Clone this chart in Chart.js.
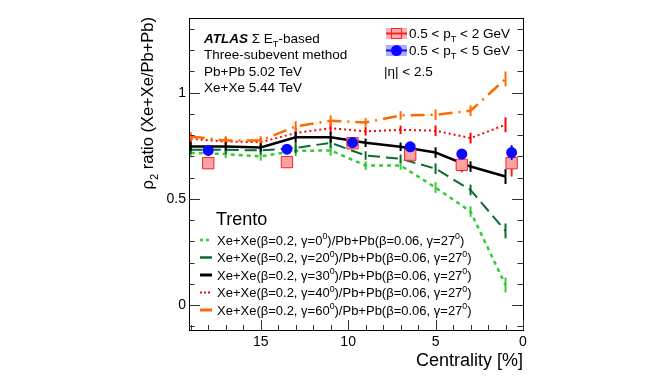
<!DOCTYPE html>
<html>
<head>
<meta charset="utf-8">
<script src="https://cdn.jsdelivr.net/npm/chart.js@4.4.0/dist/chart.umd.min.js"></script>
<style>
  html, body { margin: 0; padding: 0; background: #fff; }
</style>
</head>
<body>
<canvas id="ratioChart" width="664" height="379"></canvas>
<script>
// Trento model curves, centrality bin centres
const centrality = [19, 17, 15, 13, 11, 9, 7, 5, 3, 1];
const gammas = [0, 20, 30, 40, 60];
const trento0  = [0.716, 0.711, 0.700, 0.726, 0.728, 0.657, 0.657, 0.553, 0.440, 0.094];
const trento20 = [0.731, 0.731, 0.728, 0.740, 0.764, 0.704, 0.689, 0.642, 0.542, 0.349];
const trento30 = [0.747, 0.747, 0.742, 0.790, 0.790, 0.764, 0.745, 0.718, 0.652, 0.605];
const trento40 = [0.782, 0.770, 0.767, 0.810, 0.833, 0.818, 0.825, 0.821, 0.786, 0.849];
const trento60 = [0.794, 0.775, 0.775, 0.841, 0.868, 0.860, 0.893, 0.896, 0.915, 1.065];
const trentoErr = [0.02, 0.02, 0.02, 0.025, 0.025, 0.02, 0.02, 0.025, 0.025, 0.035];

// ATLAS measurements
const dataCent = [18, 13.5, 9.75, 6.45, 3.5, 0.65];
const ptLow     = [0.668, 0.673, 0.762, 0.708, 0.660, 0.668];
const ptLowStat = [0.015, 0.015, 0.015, 0.02, 0.035, 0.063];
const ptHigh     = [0.728, 0.734, 0.765, 0.745, 0.711, 0.718];
const ptHighStat = [0.01, 0.01, 0.012, 0.012, 0.015, 0.035];

// axes
const xTicks = [15, 10, 5, 0];
const yTicks = [0, 0.5, 1];

const FONT = '"Liberation Sans", Arial, Helvetica, sans-serif';

function pts(xs, ys) {
    return xs.map((x, i) => ({ x: x, y: ys[i] }));
}

// draw text made of normal / sub / sup / bold-italic pieces
function rich(ctx, parts, x, y, size, align) {
    let total = 0;
    const widths = parts.map(p => {
        ctx.font = fontFor(p[1], size);
        const w = ctx.measureText(p[0]).width;
        total += w;
        return w;
    });
    let cx = align === 'right' ? x - total : x;
    parts.forEach((p, i) => {
        ctx.font = fontFor(p[1], size);
        let dy = 0;
        if (p[1] === 'sub') dy = size * 0.3;
        if (p[1] === 'sup') dy = -size * 0.42;
        ctx.fillText(p[0], cx, y + dy);
        cx += widths[i];
    });
}
function fontFor(kind, size) {
    if (kind === 'sub' || kind === 'sup') return (size * 0.68).toFixed(1) + 'px ' + FONT;
    if (kind === 'bi') return 'italic bold ' + size + 'px ' + FONT;
    return size + 'px ' + FONT;
}

const models = [
    { data: trento0,  color: '#33cc33', width: 2.5, dash: [4, 4] },
    { data: trento20, color: '#0b6b2e', width: 2,   dash: [12, 6] },
    { data: trento30, color: '#000000', width: 2.5, dash: [] },
    { data: trento40, color: '#ff0000', width: 2,   dash: [2, 3] },
    { data: trento60, color: '#ff6a00', width: 2.5, dash: [14, 6, 2, 6] }
];

const datasets = [
    {
        data: pts(dataCent, ptHigh),
        showLine: false,
        pointStyle: 'circle',
        pointRadius: 5.5,
        backgroundColor: '#0a0aff',
        borderColor: '#0a0aff',
        borderWidth: 0,
        errs: ptHighStat,
        errColor: '#0a0aff',
        errWidth: 2
    },
    {
        data: pts(dataCent, ptLow),
        showLine: false,
        pointStyle: 'rect',
        pointRadius: 8,
        backgroundColor: '#f9a3a3',
        borderColor: '#ff2020',
        borderWidth: 1,
        errs: ptLowStat,
        errColor: '#ff2020',
        errWidth: 2
    }
];
// black on top of the other models
[2, 4, 3, 1, 0].forEach(k => {
    const m = models[k];
    datasets.push({
        data: pts(centrality, m.data),
        borderColor: m.color,
        borderWidth: m.width,
        borderDash: m.dash,
        pointRadius: 0,
        tension: 0,
        fill: false,
        errs: trentoErr,
        errColor: m.color,
        errWidth: 2
    });
});

const errorBars = {
    id: 'errorBars',
    beforeDatasetDraw(chart, args) {
        const ds = chart.data.datasets[args.index];
        if (!ds.errs) return;
        const ys = chart.scales.y;
        const ctx = chart.ctx;
        ctx.save();
        ctx.strokeStyle = ds.errColor;
        ctx.lineWidth = ds.errWidth;
        ctx.setLineDash([]);
        args.meta.data.forEach((el, i) => {
            const v = ds.data[i].y, e = ds.errs[i];
            ctx.beginPath();
            ctx.moveTo(el.x, ys.getPixelForValue(v - e));
            ctx.lineTo(el.x, ys.getPixelForValue(v + e));
            ctx.stroke();
        });
        ctx.restore();
    }
};

const decorations = {
    id: 'decorations',
    afterDraw(chart) {
        const ctx = chart.ctx;
        const a = chart.chartArea;
        const xs = chart.scales.x, ys = chart.scales.y;
        ctx.save();
        ctx.setLineDash([]);
        ctx.strokeStyle = '#000';
        ctx.lineWidth = 1;
        ctx.strokeRect(Math.round(a.left) + 0.5, Math.round(a.top) + 0.5,
                       Math.round(a.right - a.left), Math.round(a.bottom - a.top));

        // y ticks, both sides
        ctx.strokeStyle = '#333';
        for (let k = -1; k <= 13; k++) {
            const v = k / 10;
            const py = Math.round(ys.getPixelForValue(v)) + 0.5;
            if (py < a.top || py > a.bottom) continue;
            const len = (k % 5 === 0) ? 11 : 5.5;
            ctx.beginPath();
            ctx.moveTo(a.left, py); ctx.lineTo(a.left + len, py);
            ctx.moveTo(a.right, py); ctx.lineTo(a.right - len, py);
            ctx.stroke();
        }
        // x ticks
        for (let k = 0; k <= 19; k++) {
            const px = Math.round(xs.getPixelForValue(k)) + 0.5;
            const len = (k % 5 === 0) ? 10 : 5;
            ctx.beginPath();
            ctx.moveTo(px, a.bottom); ctx.lineTo(px, a.bottom - len);
            ctx.stroke();
        }

        ctx.fillStyle = '#000';
        ctx.font = '14px ' + FONT;
        ctx.textAlign = 'center';
        ctx.textBaseline = 'alphabetic';
        xTicks.forEach(t => ctx.fillText(String(t), xs.getPixelForValue(t), a.bottom + 16));
        ctx.textAlign = 'right';
        ctx.textBaseline = 'middle';
        yTicks.forEach(t => ctx.fillText(String(t), a.left - 3, ys.getPixelForValue(t)));

        // axis titles
        ctx.textBaseline = 'alphabetic';
        ctx.textAlign = 'left';
        ctx.font = '18px ' + FONT;
        const ct = 'Centrality [%]';
        ctx.fillText(ct, a.right - ctx.measureText(ct).width, 366);

        ctx.save();
        ctx.translate(153, a.top - 1);
        ctx.rotate(-Math.PI / 2);
        rich(ctx, [['\u03c1', ''], ['2', 'sub'], [' ratio (Xe+Xe/Pb+Pb)', '']], 0, 0, 16.5, 'right');
        ctx.restore();

        // top-left label block
        rich(ctx, [['ATLAS', 'bi'], [' \u03a3 E', ''], ['T', 'sub'], ['-based', '']], 204, 42.5, 13.5);
        rich(ctx, [['Three-subevent method', '']], 204, 59, 13.5);
        rich(ctx, [['Pb+Pb 5.02 TeV', '']], 204, 75.5, 13.5);
        rich(ctx, [['Xe+Xe 5.44 TeV', '']], 204, 92, 13.5);

        // top-right legend
        ctx.fillStyle = 'rgba(249,120,120,0.6)';
        ctx.fillRect(386, 28, 21, 11);
        ctx.strokeStyle = '#ff2020';
        ctx.lineWidth = 2;
        ctx.beginPath(); ctx.moveTo(386, 33.5); ctx.lineTo(407, 33.5); ctx.stroke();
        ctx.lineWidth = 1;
        ctx.strokeRect(391.5, 28.5, 10, 10);
        ctx.fillStyle = 'rgba(120,120,255,0.6)';
        ctx.fillRect(386, 45, 21, 11);
        ctx.strokeStyle = '#0a0aff';
        ctx.lineWidth = 2;
        ctx.beginPath(); ctx.moveTo(386, 50.5); ctx.lineTo(407, 50.5); ctx.stroke();
        ctx.fillStyle = '#0a0aff';
        ctx.beginPath(); ctx.arc(396.5, 50.5, 5.5, 0, Math.PI * 2); ctx.fill();
        ctx.fillStyle = '#000';
        rich(ctx, [['0.5 < p', ''], ['T', 'sub'], [' < 2 GeV', '']], 409, 37.5, 13.5);
        rich(ctx, [['0.5 < p', ''], ['T', 'sub'], [' < 5 GeV', '']], 409, 54.5, 13.5);
        rich(ctx, [['|\u03b7| < 2.5', '']], 384, 76, 13.5);

        // Trento legend
        ctx.font = '18px ' + FONT;
        ctx.fillText('Trento', 216, 225);
        const rowY = [240, 257.5, 275, 292.5, 310];
        const legDash = [[3, 3], [], [], [2, 2], []];
        const legWidth = [2.5, 2.5, 3, 2, 3];
        gammas.forEach((g, i) => {
            const m = models[i];
            ctx.strokeStyle = m.color;
            ctx.lineWidth = legWidth[i];
            ctx.setLineDash(legDash[i]);
            ctx.beginPath(); ctx.moveTo(200, rowY[i]); ctx.lineTo(212, rowY[i]); ctx.stroke();
            ctx.setLineDash([]);
            ctx.fillStyle = '#000';
            rich(ctx, [['Xe+Xe(\u03b2=0.2, \u03b3=' + g, ''], ['0', 'sup'],
                       [')/Pb+Pb(\u03b2=0.06, \u03b3=27', ''], ['0', 'sup'], [')', '']],
                 217, rowY[i] + 4.5, 13);
        });
        ctx.restore();
    }
};

const ctx = document.getElementById('ratioChart').getContext('2d');
new Chart(ctx, {
    type: 'line',
    data: { datasets: datasets },
    options: {
        responsive: false,
        animation: false,
        devicePixelRatio: 1,
        layout: { padding: { left: 189, right: 141, top: 18, bottom: 49 } },
        scales: {
            x: { type: 'linear', min: 0, max: 19.1, reverse: true, display: false },
            y: { type: 'linear', min: -0.118, max: 1.352, display: false }
        },
        plugins: {
            legend: { display: false },
            tooltip: { enabled: false }
        }
    },
    plugins: [errorBars, decorations]
});
</script>
</body>
</html>
